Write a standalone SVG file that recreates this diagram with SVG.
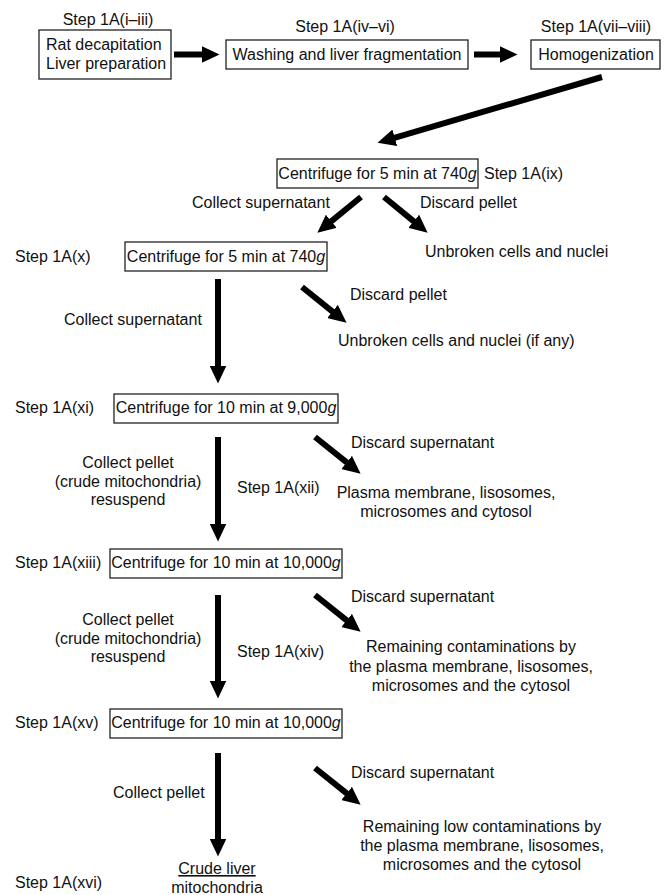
<svg xmlns="http://www.w3.org/2000/svg" width="668" height="895" viewBox="0 0 668 895">
<style>
text{font-family:"Liberation Sans",Arial,sans-serif;font-size:16px;fill:#111}
.c{text-anchor:middle}
.box{fill:#fff;stroke:#222;stroke-width:1.3}
.arr{stroke:#000;stroke-width:6;fill:none;marker-end:url(#ah)}
.i{font-style:italic}
</style>
<defs>
<marker id="ah" markerUnits="userSpaceOnUse" markerWidth="18" markerHeight="17" refX="0.5" refY="8.5" orient="auto">
<path d="M0,0 L18,8.5 L0,17 z" fill="#000"/>
</marker>
</defs>
<rect width="668" height="895" fill="#fff"/>

<g id="connectors">
<line class="arr" x1="174" y1="54.5" x2="202" y2="54.5"/>
<line class="arr" x1="474" y1="54.5" x2="500" y2="54.5"/>
<line class="arr" x1="602" y1="77" x2="394.3" y2="137.9"/>
<line class="arr" x1="361" y1="197" x2="330.9" y2="221.6"/>
<line class="arr" x1="384" y1="197" x2="414.1" y2="221.6"/>
<line class="arr" x1="218" y1="279" x2="218" y2="366"/>
<line class="arr" x1="302" y1="287" x2="332.9" y2="311.8"/>
<line class="arr" x1="218" y1="437" x2="218" y2="524"/>
<line class="arr" x1="315" y1="437" x2="347" y2="462.7"/>
<line class="arr" x1="218" y1="595" x2="218" y2="681"/>
<line class="arr" x1="315" y1="595" x2="347" y2="620.7"/>
<line class="arr" x1="218" y1="753" x2="218" y2="839"/>
<line class="arr" x1="315" y1="768" x2="347" y2="793.7"/>
</g>

<g id="n1">
<text class="c" x="108" y="25">Step 1A(i–iii)</text>
<rect class="box" x="39" y="30" width="132" height="49"/>
<text x="46" y="50">Rat decapitation</text>
<text x="46" y="69">Liver preparation</text>
</g>

<g id="n2">
<text class="c" x="345" y="32">Step 1A(iv–vi)</text>
<rect class="box" x="226" y="40" width="242" height="29"/>
<text class="c" x="347" y="60">Washing and liver fragmentation</text>
</g>

<g id="n3">
<text class="c" x="596" y="32">Step 1A(vii–viii)</text>
<rect class="box" x="531" y="40" width="129" height="29"/>
<text class="c" x="596" y="60">Homogenization</text>
</g>

<g id="n4">
<rect class="box" x="277" y="159" width="201" height="29"/>
<text class="c" x="377.5" y="179">Centrifuge for 5 min at 740<tspan class="i">g</tspan></text>
<text x="484" y="179">Step 1A(ix)</text>
</g>

<g id="lbl1">
<text x="192" y="208">Collect supernatant</text>
<text x="420" y="208">Discard pellet</text>
</g>

<g id="waste1">
<text x="425" y="257">Unbroken cells and nuclei</text>
</g>

<g id="n5">
<text x="15" y="262">Step 1A(x)</text>
<rect class="box" x="125" y="242" width="202" height="29"/>
<text class="c" x="226" y="262">Centrifuge for 5 min at 740<tspan class="i">g</tspan></text>
</g>

<g id="lbl2">
<text x="64" y="325">Collect supernatant</text>
<text x="350" y="300">Discard pellet</text>
</g>

<g id="waste2">
<text x="338" y="346">Unbroken cells and nuclei (if any)</text>
</g>

<g id="n6">
<text x="15" y="413">Step 1A(xi)</text>
<rect class="box" x="114" y="394" width="224" height="29"/>
<text class="c" x="226" y="413">Centrifuge for 10 min at 9,000<tspan class="i">g</tspan></text>
</g>

<g id="lbl3">
<text x="351" y="448">Discard supernatant</text>
<text class="c" x="128" y="468">Collect pellet</text>
<text class="c" x="128" y="486.5">(crude mitochondria)</text>
<text class="c" x="128" y="505">resuspend</text>
<text x="237" y="493">Step 1A(xii)</text>
</g>

<g id="waste3">
<text class="c" x="446" y="498">Plasma membrane, lisosomes,</text>
<text class="c" x="446" y="517">microsomes and cytosol</text>
</g>

<g id="n7">
<text x="15" y="568">Step 1A(xiii)</text>
<rect class="box" x="110" y="549" width="232" height="29"/>
<text class="c" x="226" y="568">Centrifuge for 10 min at 10,000<tspan class="i">g</tspan></text>
</g>

<g id="lbl4">
<text x="351" y="602">Discard supernatant</text>
<text class="c" x="128" y="625">Collect pellet</text>
<text class="c" x="128" y="643.5">(crude mitochondria)</text>
<text class="c" x="128" y="662">resuspend</text>
<text x="237" y="657">Step 1A(xiv)</text>
</g>

<g id="waste4">
<text class="c" x="471" y="652">Remaining contaminations by</text>
<text class="c" x="471" y="672">the plasma membrane, lisosomes,</text>
<text class="c" x="471" y="691">microsomes and the cytosol</text>
</g>

<g id="n8">
<text x="15" y="728">Step 1A(xv)</text>
<rect class="box" x="110" y="709" width="232" height="29"/>
<text class="c" x="226" y="728">Centrifuge for 10 min at 10,000<tspan class="i">g</tspan></text>
</g>

<g id="lbl5">
<text x="113" y="798">Collect pellet</text>
<text x="351" y="778">Discard supernatant</text>
</g>

<g id="waste5">
<text class="c" x="482" y="832">Remaining low contaminations by</text>
<text class="c" x="482" y="851">the plasma membrane, lisosomes,</text>
<text class="c" x="482" y="870">microsomes and the cytosol</text>
</g>

<g id="n9">
<text class="c" x="217" y="874" text-decoration="underline">Crude liver</text>
<text class="c" x="217" y="893">mitochondria</text>
<text x="15" y="888">Step 1A(xvi)</text>
</g>
</svg>
